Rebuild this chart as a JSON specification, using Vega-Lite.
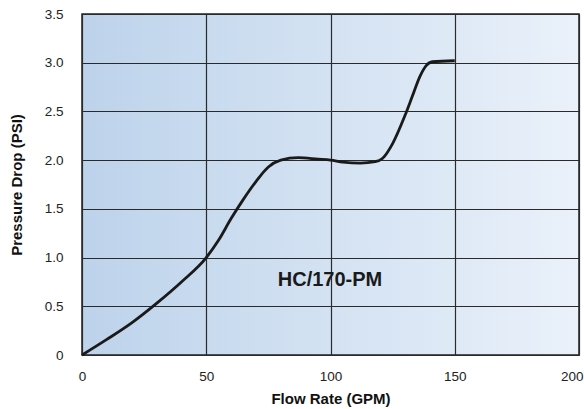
{
  "$schema": "https://vega.github.io/schema/vega-lite/v6.json",
  "width": 497,
  "height": 341,
  "autosize": {"type": "none"},
  "padding": {"left": 82, "top": 14, "right": 5, "bottom": 54},
  "background": "#ffffff",
  "config": {
    "view": {
      "stroke": "#222222",
      "strokeWidth": 1.5,
      "fill": {"gradient": "linear", "x1": 0, "y1": 0, "x2": 1, "y2": 0,
        "stops": [{"offset": 0, "color": "#BDD3EB"}, {"offset": 1, "color": "#EAF1FA"}]}
    },
    "font": "Liberation Sans",
    "axis": {
      "labelFont": "Liberation Sans",
      "labelFontSize": 13.5,
      "labelColor": "#222222",
      "titleFont": "Liberation Sans",
      "titleFontSize": 15,
      "titleFontWeight": "bold",
      "titleColor": "#111111",
      "domain": false,
      "ticks": false,
      "gridColor": "#2a2a2a",
      "gridOpacity": 1,
      "gridWidth": 1.2
    }
  },
  "datasets": {
    "curve": [
      {"flow": 0, "psi": 0},
      {"flow": 10, "psi": 0.16},
      {"flow": 20, "psi": 0.33},
      {"flow": 30, "psi": 0.53},
      {"flow": 40, "psi": 0.75},
      {"flow": 50, "psi": 1.0},
      {"flow": 55, "psi": 1.18},
      {"flow": 60, "psi": 1.4},
      {"flow": 65, "psi": 1.6},
      {"flow": 70, "psi": 1.78},
      {"flow": 75, "psi": 1.93},
      {"flow": 80, "psi": 2.0},
      {"flow": 87, "psi": 2.025},
      {"flow": 95, "psi": 2.01},
      {"flow": 100, "psi": 2.0},
      {"flow": 105, "psi": 1.98},
      {"flow": 112, "psi": 1.97},
      {"flow": 118, "psi": 1.985},
      {"flow": 121, "psi": 2.02},
      {"flow": 125, "psi": 2.17},
      {"flow": 130, "psi": 2.46},
      {"flow": 133, "psi": 2.66},
      {"flow": 136, "psi": 2.86},
      {"flow": 138.5, "psi": 2.97},
      {"flow": 141, "psi": 3.01},
      {"flow": 150, "psi": 3.02}
    ],
    "label": [{"flow": 99.8, "psi": 0.77, "text": "HC/170-PM"}]
  },
  "layer": [
    {
      "data": {"name": "curve"},
      "mark": {"type": "line", "interpolate": "monotone", "color": "#1a1a1a", "strokeWidth": 2.8},
      "encoding": {
        "x": {
          "field": "flow", "type": "quantitative",
          "scale": {"domain": [0, 200], "nice": false},
          "axis": {"title": "Flow Rate (GPM)", "values": [0, 50, 100, 150, 200], "labelPadding": 14, "titlePadding": 9, "labelFlush": false,
            "labelAlign": {"condition": {"test": "datum.value == 200", "value": "right"}, "value": "center"},
            "labelOffset": {"condition": {"test": "datum.value == 200", "value": 4}, "value": 0}}
        },
        "y": {
          "field": "psi", "type": "quantitative",
          "scale": {"domain": [0, 3.5], "nice": false},
          "axis": {"title": "Pressure Drop (PSI)", "values": [0, 0.5, 1, 1.5, 2, 2.5, 3, 3.5],
            "labelExpr": "datum.value == 0 ? '0' : format(datum.value, '.1f')",
            "labelPadding": 19, "titlePadding": 20, "labelFlush": false}
        }
      }
    },
    {
      "data": {"name": "label"},
      "mark": {"type": "text", "font": "Liberation Sans", "fontSize": 20, "fontWeight": "bold", "color": "#1a1a1a", "align": "center", "baseline": "middle"},
      "encoding": {
        "x": {"field": "flow", "type": "quantitative"},
        "y": {"field": "psi", "type": "quantitative"},
        "text": {"field": "text"}
      }
    }
  ]
}
